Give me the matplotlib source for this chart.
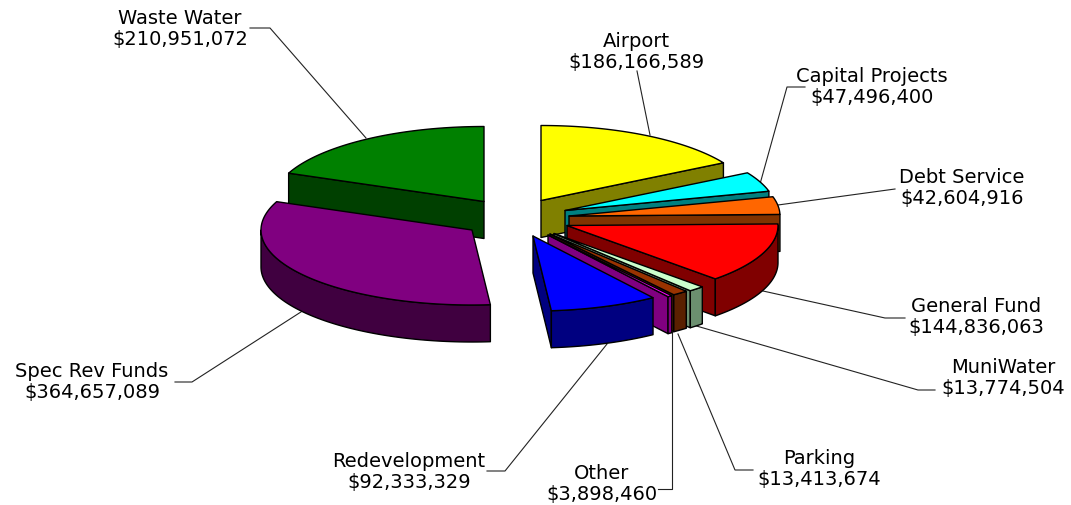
import numpy as np
import matplotlib
matplotlib.use('Agg')
import matplotlib.pyplot as plt
from matplotlib.patches import Polygon

## slices, clockwise from 12 o'clock
names = ['Airport', 'Capital Projects', 'Debt Service', 'General Fund', 'MuniWater',
         'Parking', 'Other', 'Redevelopment', 'Spec Rev Funds', 'Waste Water']
values = [186166589, 47496400, 42604916, 144836063, 13774504,
          13413674, 3898460, 92333329, 364657089, 210951072]

top_colors = ['#FFFF00', '#00FFFF', '#FF6600', '#FF0000', '#CCFFCC',
              '#993300', '#FF00FF', '#0000FF', '#800080', '#008000']
side_colors = ['#808000', '#008080', '#803300', '#800000', '#6B8F6F',
               '#5A2000', '#800080', '#000080', '#400040', '#004000']

## where each slice tip was dragged to (pixels)
tip_x = [541, 565, 569, 567, 554, 550, 548, 533, 472, 484]
tip_y = [201.5, 211.5, 217, 226.5, 234.5, 235, 236, 237, 231, 202.5]

## label centre, then leader line points
label_x = [636, 872, 962, 976, 1003, 819, 602, 409, 92, 180]
label_y = [52, 87, 188, 317, 378, 469, 484, 472, 382, 29]
leader_x = [[637, 650], [805, 787, 760], [895, 778], [905, 885, 763], [935, 918, 693],
            [753, 735, 678], [658, 672, 672], [487, 505, 607], [175, 192, 304], [250, 270, 366]]
leader_y = [[72, 136], [88, 88, 185], [190, 206], [319, 319, 292], [391, 391, 326],
            [471, 471, 335], [490, 490, 333], [472, 472, 345], [383, 383, 311], [29, 29, 139]]

rx = 211.0
ry = 75.0
depth = 37.0
lw = 1.0

fig = plt.figure(figsize=(10.71, 5.06), dpi=100, facecolor='w')
ax = fig.add_axes([0, 0, 1, 1])
ax.set_xlim(0, 1071)
ax.set_ylim(506, 0)
ax.axis('off')

total = float(sum(values))
ends = np.cumsum(values)/total*360.0
starts = np.concatenate(([0.0], ends[:-1]))


def arc(cx, cy, a1, a2):
    ang = np.radians(np.linspace(a1, a2, 80))
    return np.column_stack((cx + rx*np.sin(ang), cy - ry*np.cos(ang)))


def face(pts, color, z):
    ax.add_patch(Polygon(pts, closed=True, facecolor=color, edgecolor='k',
                         linewidth=lw, joinstyle='round', zorder=z))


## leaders go behind the pie
for lx, ly in zip(leader_x, leader_y):
    ax.plot(lx, ly, color='#222222', linewidth=0.8, zorder=1)

## back to front
order = [9, 8, 0, 1, 2, 3, 4, 5, 6, 7]
z = 2
for i in order:
    a1, a2 = starts[i], ends[i]
    cx, cy = tip_x[i], tip_y[i]
    down = np.array([0, depth])
    tip = np.array([cx, cy])

    ## radial walls
    if np.sin(np.radians(a1)) < -0.001:
        p = arc(cx, cy, a1, a1)[0]
        face([tip, p, p + down, tip + down], side_colors[i], z)
    if np.sin(np.radians(a2)) > 0.001:
        p = arc(cx, cy, a2, a2)[0]
        face([tip, p, p + down, tip + down], side_colors[i], z)

    ## outer rim, front half only
    r1, r2 = max(a1, 90.0), min(a2, 270.0)
    if r2 > r1:
        rim = arc(cx, cy, r1, r2)
        face(np.vstack((rim, rim[::-1] + down)), side_colors[i], z)

    face(np.vstack((tip, arc(cx, cy, a1, a2))), top_colors[i], z)
    z += 1

for i in range(len(names)):
    ax.text(label_x[i], label_y[i], names[i] + '\n' + '${:,}'.format(values[i]),
            ha='center', va='center', fontsize=14, color='k', family='DejaVu Sans',
            linespacing=1.15, zorder=30)

plt.savefig('out.png', format='png', dpi=100)
plt.close()
